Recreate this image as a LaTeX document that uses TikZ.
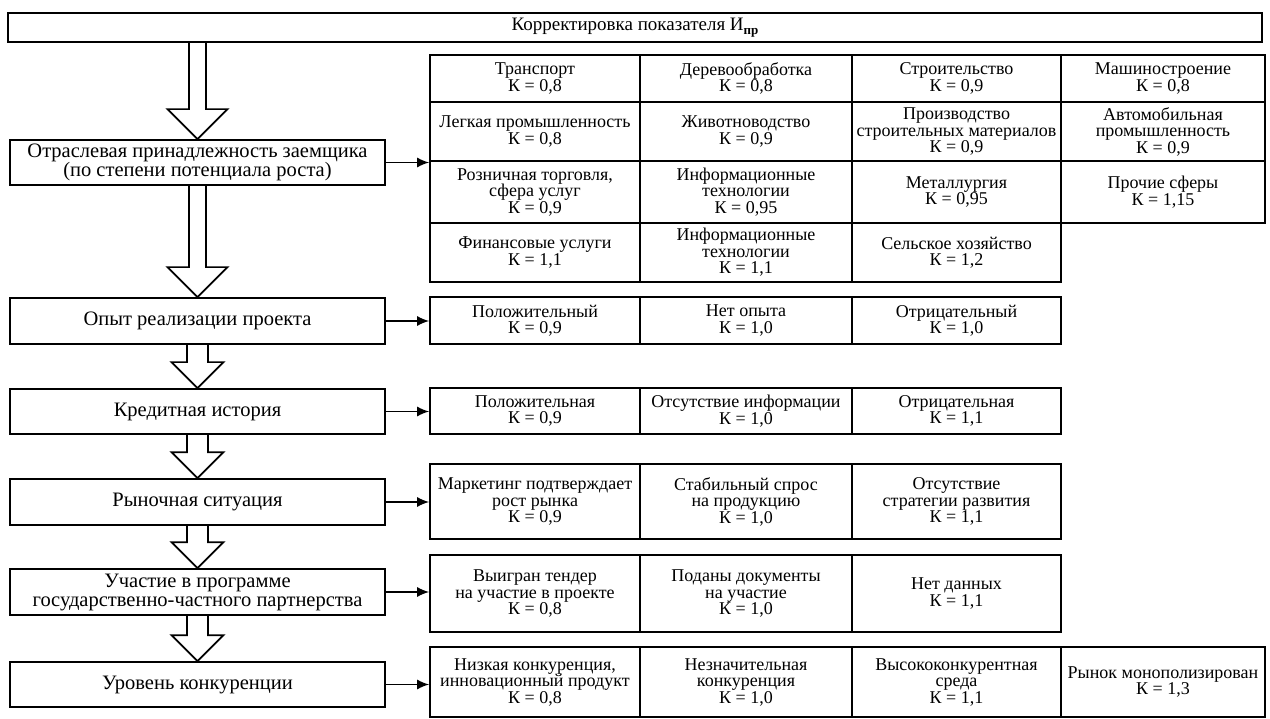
\documentclass[tikz,border=0pt]{standalone}
\usepackage{fontspec}
\setmainfont{Liberation Serif}
\usetikzlibrary{arrows.meta,calc}
\tikzset{
  cell/.style={draw, line width=1.7pt, rectangle, inner sep=0pt, align=center,
    font=\fontsize{18}{16.5}\selectfont},
  lbox/.style={draw, line width=1.7pt, rectangle, inner sep=0pt, align=center,
    font=\fontsize{20.5}{19}\selectfont, minimum width=375pt},
  conn/.style={line width=1.5pt, -{Latex[length=12pt,width=10pt]}},
  hollow/.style={line width=1.7pt, line join=miter}
}
\newcommand\mkcell[6]{\node[cell, minimum width=#4pt, minimum height=#5pt] (#1) at (#2,#3) {#6};}
\newcommand\hollowarrow[5]{\draw[hollow] let \p1=(#1.south), \p2=(#2.north) in
  (\x2-#3pt,\y1) -- (\x2-#3pt,\y2+#5pt) -- (\x2-#4pt,\y2+#5pt) -- (\x2,\y2)
  -- (\x2+#4pt,\y2+#5pt) -- (\x2+#3pt,\y2+#5pt) -- (\x2+#3pt,\y1);}
\begin{document}
\begin{tikzpicture}[x=1pt,y=-1pt]
\fill[white] (0,0) rectangle (1270,719);
\useasboundingbox (0,0) rectangle (1270,719);

% title
\node[draw, line width=1.7pt, minimum width=1254pt, minimum height=29pt, inner sep=0pt,
  font=\fontsize{19}{18}\selectfont] (title) at (635,27.5)
  {Корректировка показателя И\raisebox{-0.4ex}{\fontsize{13}{13}\selectfont\bfseries пр}};

% left column
\node[lbox, minimum height=45pt] (otr) at (197.5,162.5) {Отраслевая принадлежность заемщика\\(по степени потенциала роста)};
\node[lbox, minimum height=46pt] (opyt) at (197.5,321) {Опыт реализации проекта};
\node[lbox, minimum height=45pt] (kred) at (197.5,411.5) {Кредитная история};
\node[lbox, minimum height=46pt] (ryn) at (197.5,502) {Рыночная ситуация};
\node[lbox, minimum height=46pt] (uch) at (197.5,592) {Участие в программе\\государственно-частного партнерства};
\node[lbox, minimum height=45pt] (urov) at (197.5,684.5) {Уровень конкуренции};

% hollow arrows
\hollowarrow{title}{otr}{8.5}{30}{30}
\hollowarrow{otr}{opyt}{8.5}{30}{30}
\hollowarrow{opyt}{kred}{10.5}{26}{26}
\hollowarrow{kred}{ryn}{10.5}{26}{26}
\hollowarrow{ryn}{uch}{10.5}{26}{26}
\hollowarrow{uch}{urov}{10.5}{26}{26}

% grid 1 (branch)
\mkcell{a11}{535}{78.5}{210}{47}{Транспорт\\К = 0,8}
\mkcell{a12}{746}{78.5}{212}{47}{Деревообработка\\К = 0,8}
\mkcell{a13}{956.5}{78.5}{209}{47}{Строительство\\К = 0,9}
\mkcell{a14}{1163}{78.5}{204}{47}{Машиностроение\\К = 0,8}
\mkcell{a21}{535}{131.5}{210}{59}{Легкая промышленность\\К = 0,8}
\mkcell{a22}{746}{131.5}{212}{59}{Животноводство\\К = 0,9}
\mkcell{a23}{956.5}{131.5}{209}{59}{Производство\\строительных материалов\\К = 0,9}
\mkcell{a24}{1163}{131.5}{204}{59}{Автомобильная\\промышленность\\К = 0,9}
\mkcell{a31}{535}{192}{210}{62}{Розничная торговля,\\сфера услуг\\К = 0,9}
\mkcell{a32}{746}{192}{212}{62}{Информационные\\технологии\\К = 0,95}
\mkcell{a33}{956.5}{192}{209}{62}{Металлургия\\К = 0,95}
\mkcell{a34}{1163}{192}{204}{62}{Прочие сферы\\К = 1,15}
\mkcell{a41}{535}{252.5}{210}{59}{Финансовые услуги\\К = 1,1}
\mkcell{a42}{746}{252.5}{212}{59}{Информационные\\технологии\\К = 1,1}
\mkcell{a43}{956.5}{252.5}{209}{59}{Сельское хозяйство\\К = 1,2}

% experience
\mkcell{b1}{535}{320.5}{210}{47}{Положительный\\К = 0,9}
\mkcell{b2}{746}{320.5}{212}{47}{Нет опыта\\К = 1,0}
\mkcell{b3}{956.5}{320.5}{209}{47}{Отрицательный\\К = 1,0}

% credit history
\mkcell{c1}{535}{411}{210}{46}{Положительная\\К = 0,9}
\mkcell{c2}{746}{411}{212}{46}{Отсутствие информации\\К = 1,0}
\mkcell{c3}{956.5}{411}{209}{46}{Отрицательная\\К = 1,1}

% market
\mkcell{d1}{535}{501.5}{210}{75}{Маркетинг подтверждает\\рост рынка\\К = 0,9}
\mkcell{d2}{746}{501.5}{212}{75}{Стабильный спрос\\на продукцию\\К = 1,0}
\mkcell{d3}{956.5}{501.5}{209}{75}{Отсутствие\\стратегии развития\\К = 1,1}

% PPP
\mkcell{e1}{535}{593.5}{210}{77}{Выигран тендер\\на участие в проекте\\К = 0,8}
\mkcell{e2}{746}{593.5}{212}{77}{Поданы документы\\на участие\\К = 1,0}
\mkcell{e3}{956.5}{593.5}{209}{77}{Нет данных\\К = 1,1}

% competition
\mkcell{f1}{535}{682}{210}{70}{Низкая конкуренция,\\инновационный продукт\\К = 0,8}
\mkcell{f2}{746}{682}{212}{70}{Незначительная\\конкуренция\\К = 1,0}
\mkcell{f3}{956.5}{682}{209}{70}{Высококонкурентная\\среда\\К = 1,1}
\mkcell{f4}{1163}{682}{204}{70}{Рынок монополизирован\\К = 1,3}

% connectors
\draw[conn] (otr.east) -- (otr.east -| a31.west);
\draw[conn] (opyt.east) -- (opyt.east -| b1.west);
\draw[conn] (kred.east) -- (kred.east -| c1.west);
\draw[conn] (ryn.east) -- (ryn.east -| d1.west);
\draw[conn] (uch.east) -- (uch.east -| e1.west);
\draw[conn] (urov.east) -- (urov.east -| f1.west);
\end{tikzpicture}
\end{document}
